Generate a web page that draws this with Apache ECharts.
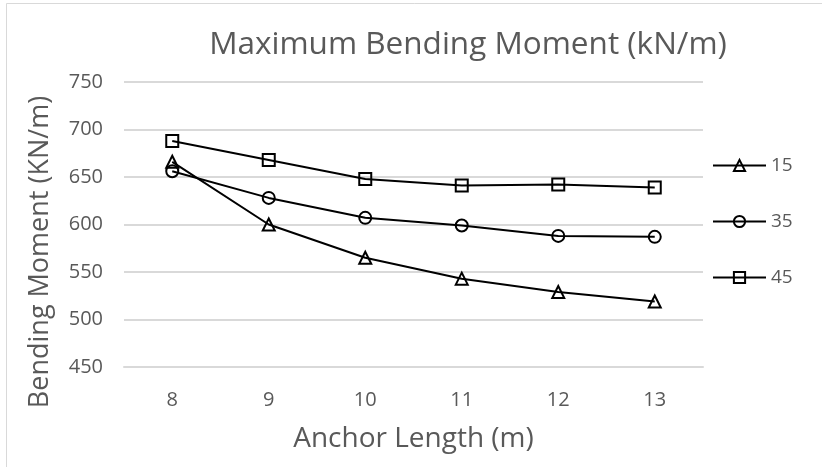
<!DOCTYPE html>
<html>
<head>
<meta charset="utf-8">
<script src="https://cdn.jsdelivr.net/npm/echarts@6/dist/echarts.min.js"></script>
<style>
  html, body { margin: 0; padding: 0; background: #fff; }
  #chart { width: 822px; height: 467px; }
</style>
</head>
<body>
<div id="chart"></div>
<script>
// Anchor lengths (m) on the horizontal axis
const anchorLengths = ['8', '9', '10', '11', '12', '13'];
// Maximum bending moment (kN/m) for each case
const series15 = [666, 600, 565, 543, 529, 519];
const series35 = [656, 628, 607, 599, 588, 587];
const series45 = [688, 668, 648, 641, 642, 639];
const seriesNames = ['15', '35', '45'];
const yMin = 450, yMax = 750, yStep = 50;

const font = '"Open Sans", "Noto Sans", sans-serif';
const grey = '#595959';

function lineSeries(name, data, symbol, size) {
  return {
    name: name,
    type: 'line',
    data: data,
    symbol: symbol,
    symbolSize: size,
    lineStyle: { color: '#000', width: 2 },
    itemStyle: { color: 'rgba(255,255,255,0)', borderColor: '#000', borderWidth: 2 },
    emphasis: { disabled: true },
    z: 2
  };
}

const chart = echarts.init(document.getElementById('chart'), null, { renderer: 'canvas' });
chart.setOption({
  animation: false,
  backgroundColor: '#fff',
  title: {
    text: 'Maximum Bending Moment (kN/m)',
    left: 463, top: 24, textAlign: 'center',
    textStyle: { fontFamily: font, fontSize: 31.5, fontWeight: 'normal', color: grey }
  },
  graphic: [
    {
      type: 'rect', shape: { x: 6.5, y: 3.5, width: 900, height: 900 },
      style: { fill: 'none', stroke: '#d9d9d9', lineWidth: 1 }, silent: true
    },
    {
      // vertical axis title
      type: 'text', x: 40, y: 252, rotation: Math.PI / 2,
      style: {
        text: 'Bending Moment (KN/m)', fontFamily: font, fontSize: 27, fill: grey,
        align: 'center', verticalAlign: 'middle'
      },
      silent: true
    }
  ],
  legend: {
    orient: 'vertical', left: 707, top: 151, itemGap: 37,
    itemWidth: 53, itemHeight: 14,
    data: seriesNames,
    textStyle: { fontFamily: font, fontSize: 19, color: grey }
  },
  grid: { left: 124, right: 119, top: 82, bottom: 100 },
  xAxis: {
    type: 'category', data: anchorLengths, boundaryGap: true,
    name: 'Anchor Length (m)', nameLocation: 'middle', nameGap: 58,
    nameTextStyle: { fontFamily: font, fontSize: 28, color: grey },
    axisLine: { show: true, lineStyle: { color: '#d9d9d9', width: 2 } },
    axisTick: { show: false },
    axisLabel: { fontFamily: font, fontSize: 20, color: grey, margin: 23 }
  },
  yAxis: {
    type: 'value', min: yMin, max: yMax, interval: yStep,
    axisLine: { show: false }, axisTick: { show: false },
    axisLabel: { fontFamily: font, fontSize: 20, color: grey, margin: 21 },
    splitLine: { lineStyle: { color: '#d9d9d9', width: 2 } }
  },
  series: [
    lineSeries('15', series15, 'triangle', 12),
    lineSeries('35', series35, 'circle', 12),
    lineSeries('45', series45, 'rect', 12)
  ]
});
</script>
</body>
</html>
